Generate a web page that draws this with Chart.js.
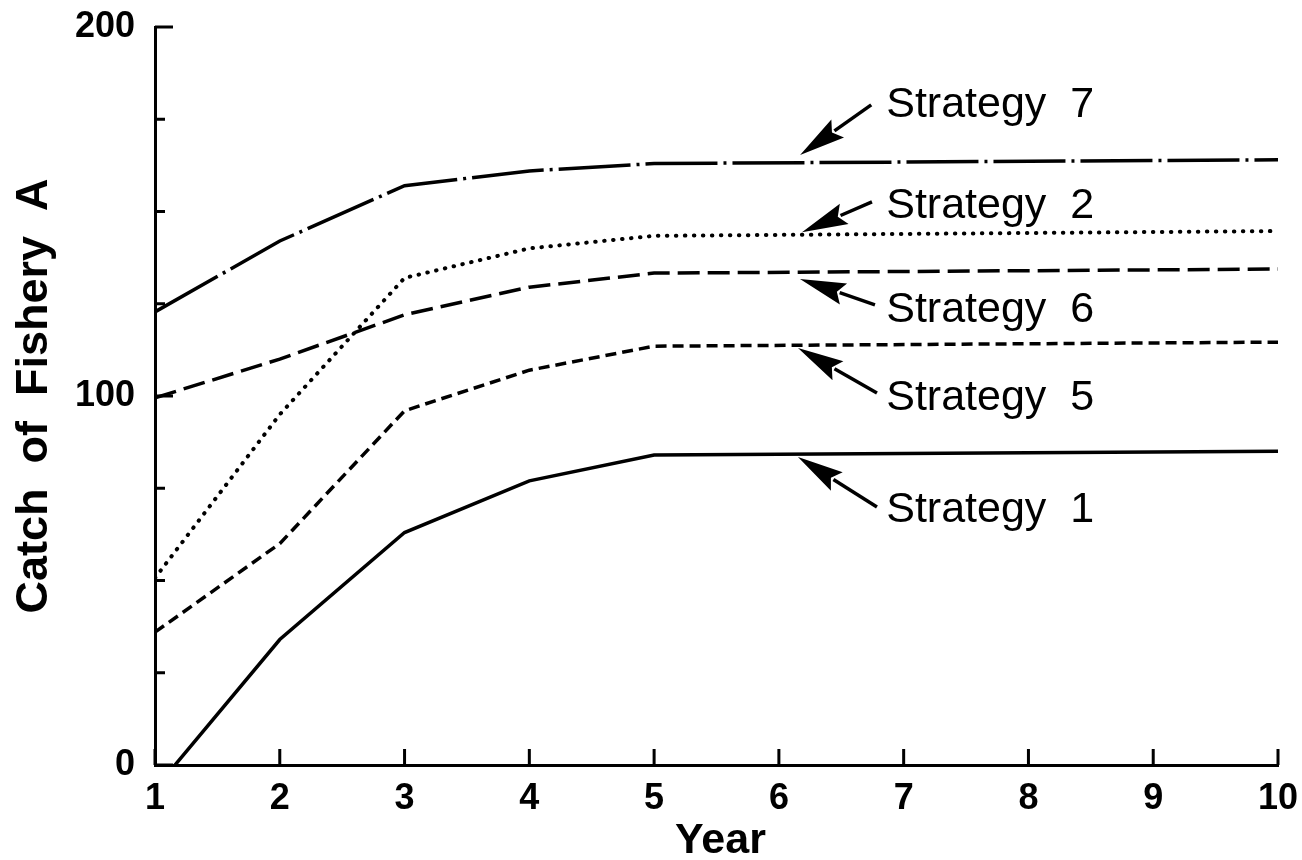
<!DOCTYPE html>
<html>
<head>
<meta charset="utf-8">
<script src="https://cdn.jsdelivr.net/npm/chart.js@4/dist/chart.umd.min.js"></script>
<style>
  html, body { margin: 0; padding: 0; background: #fff; }
  #wrap { width: 1302px; height: 860px; }
</style>
</head>
<body>
<div id="wrap"><canvas id="c" width="1302" height="860"></canvas></div>
<script>
// ---- data ----
const years = [1, 2, 3, 4, 5, 10];
const strategy1 = [-6.5, 34, 63, 77, 84, 85];
const strategy5 = [36, 60, 96, 107, 113.5, 114.6];
const strategy2 = [50.7, 95, 132, 140, 143.4, 144.7];
const strategy6 = [99.5, 110, 122, 129.5, 133.3, 134.4];
const strategy7 = [122.8, 142, 157, 161, 163, 164];
const yTickLabels = [0, 100, 200];
const xTickLabels = [1, 2, 3, 4, 5, 6, 7, 8, 9, 10];
const xTitle = 'Year';
const yTitle = 'Catch  of  Fishery  A';

// annotation labels (data coordinates)
const notes = [
  { text: 'Strategy  7', tip: [6.17, 165.3], tail: [6.74, 178.9], label: [6.86, 175.6] },
  { text: 'Strategy  2', tip: [6.185, 144.4], tail: [6.746, 152.6], label: [6.86, 148.2] },
  { text: 'Strategy  6', tip: [6.169, 131.7], tail: [6.77, 124.7], label: [6.86, 120.1] },
  { text: 'Strategy  5', tip: [6.153, 113.0], tail: [6.786, 100.8], label: [6.86, 96.2] },
  { text: 'Strategy  1', tip: [6.153, 83.5], tail: [6.786, 69.9], label: [6.86, 65.9] }
];

const FONT = '"Liberation Sans", Arial, sans-serif';

function pts(vals) { return years.map((x, i) => ({ x: x, y: vals[i] })); }

const baseDs = { borderColor: '#000', borderWidth: 3.5, pointRadius: 0, tension: 0, fill: false, clip: 0 };

const inwardTicks = {
  id: 'inwardTicks',
  afterDatasetsDraw(chart) {
    const ctx = chart.ctx, a = chart.chartArea;
    const xs = chart.scales.x, ys = chart.scales.y;
    ctx.save();
    ctx.strokeStyle = '#000';
    ctx.lineWidth = 3;
    ctx.beginPath();
    ys.ticks.forEach(t => {
      const p = ys.getPixelForValue(t.value);
      const len = (yTickLabels.indexOf(t.value) >= 0) ? 18 : 10;
      ctx.moveTo(a.left, p); ctx.lineTo(a.left + len, p);
    });
    xs.ticks.forEach(t => {
      const p = xs.getPixelForValue(t.value);
      ctx.moveTo(p, a.bottom); ctx.lineTo(p, a.bottom - 16);
    });
    ctx.stroke();
    // axis titles
    ctx.fillStyle = '#000';
    ctx.font = 'bold 43px ' + FONT;
    ctx.textAlign = 'center';
    ctx.textBaseline = 'alphabetic';
    ctx.fillText(xTitle, (a.left + a.right) / 2 + 4, 853);
    ctx.save();
    ctx.translate(47, (a.top + a.bottom) / 2);
    ctx.rotate(-Math.PI / 2);
    ctx.font = 'bold 45px ' + FONT;
    ctx.fillText(yTitle, 0, 0);
    ctx.restore();
    ctx.restore();
  }
};

const arrows = {
  id: 'arrows',
  afterDatasetsDraw(chart) {
    const ctx = chart.ctx;
    const xs = chart.scales.x, ys = chart.scales.y;
    ctx.save();
    ctx.fillStyle = '#000';
    ctx.strokeStyle = '#000';
    notes.forEach(n => {
      const tx = xs.getPixelForValue(n.tip[0]), ty = ys.getPixelForValue(n.tip[1]);
      const sx = xs.getPixelForValue(n.tail[0]), sy = ys.getPixelForValue(n.tail[1]);
      const dx = sx - tx, dy = sy - ty;
      const L = Math.hypot(dx, dy);
      const ux = dx / L, uy = dy / L;
      const headLen = 46, headHalf = 11;
      const bx = tx + ux * headLen, by = ty + uy * headLen;
      ctx.lineWidth = 3.5;
      ctx.beginPath();
      ctx.moveTo(bx - ux * 4, by - uy * 4);
      ctx.lineTo(sx, sy);
      ctx.stroke();
      ctx.beginPath();
      ctx.moveTo(tx, ty);
      ctx.lineTo(bx - uy * headHalf, by + ux * headHalf);
      ctx.lineTo(bx - ux * 7, by - uy * 7);
      ctx.lineTo(bx + uy * headHalf, by - ux * headHalf);
      ctx.closePath();
      ctx.fill();
      const lx = xs.getPixelForValue(n.label[0]), ly = ys.getPixelForValue(n.label[1]);
      ctx.font = '43px ' + FONT;
      ctx.textAlign = 'left';
      ctx.textBaseline = 'alphabetic';
      ctx.fillText(n.text, lx, ly);
    });
    ctx.restore();
  }
};

new Chart(document.getElementById('c'), {
  type: 'line',
  data: {
    datasets: [
      Object.assign({}, baseDs, { label: 'Strategy 1', data: pts(strategy1) }),
      Object.assign({}, baseDs, { label: 'Strategy 5', data: pts(strategy5), borderDash: [11, 6] }),
      Object.assign({}, baseDs, { label: 'Strategy 2', data: pts(strategy2), borderDash: [0.5, 8.5], borderCapStyle: 'round', borderWidth: 4 }),
      Object.assign({}, baseDs, { label: 'Strategy 6', data: pts(strategy6), borderDash: [22, 8] }),
      Object.assign({}, baseDs, { label: 'Strategy 7', data: pts(strategy7), borderDash: [72, 6, 3, 6] })
    ]
  },
  options: {
    responsive: false,
    animation: false,
    layout: { padding: { top: 27, right: 24, left: 0, bottom: 0 } },
    plugins: { legend: { display: false }, tooltip: { enabled: false } },
    scales: {
      x: {
        type: 'linear',
        min: 1, max: 10,
        afterBuildTicks(scale) { scale.ticks = xTickLabels.map(v => ({ value: v })); },
        afterFit(scale) { scale.height = 95; scale.paddingLeft = 0; scale.paddingRight = 0; },
        grid: { display: false, drawTicks: false },
        border: { display: true, color: '#000', width: 3 },
        ticks: { color: '#000', padding: 12, maxRotation: 0, autoSkip: false,
                 font: { family: FONT, size: 36, weight: 'bold' } },
        title: { display: false }
      },
      y: {
        min: 0, max: 200,
        afterFit(scale) { scale.width = 155; scale.paddingTop = 0; scale.paddingBottom = 0; },
        grid: { display: false, drawTicks: false },
        border: { display: true, color: '#000', width: 3 },
        ticks: { stepSize: 25, color: '#000', padding: 20, autoSkip: false,
                 callback: v => (yTickLabels.indexOf(v) >= 0 ? String(v) : ''),
                 font: { family: FONT, size: 36, weight: 'bold' } },
        title: { display: false }
      }
    }
  },
  plugins: [inwardTicks, arrows]
});
</script>
</body>
</html>
